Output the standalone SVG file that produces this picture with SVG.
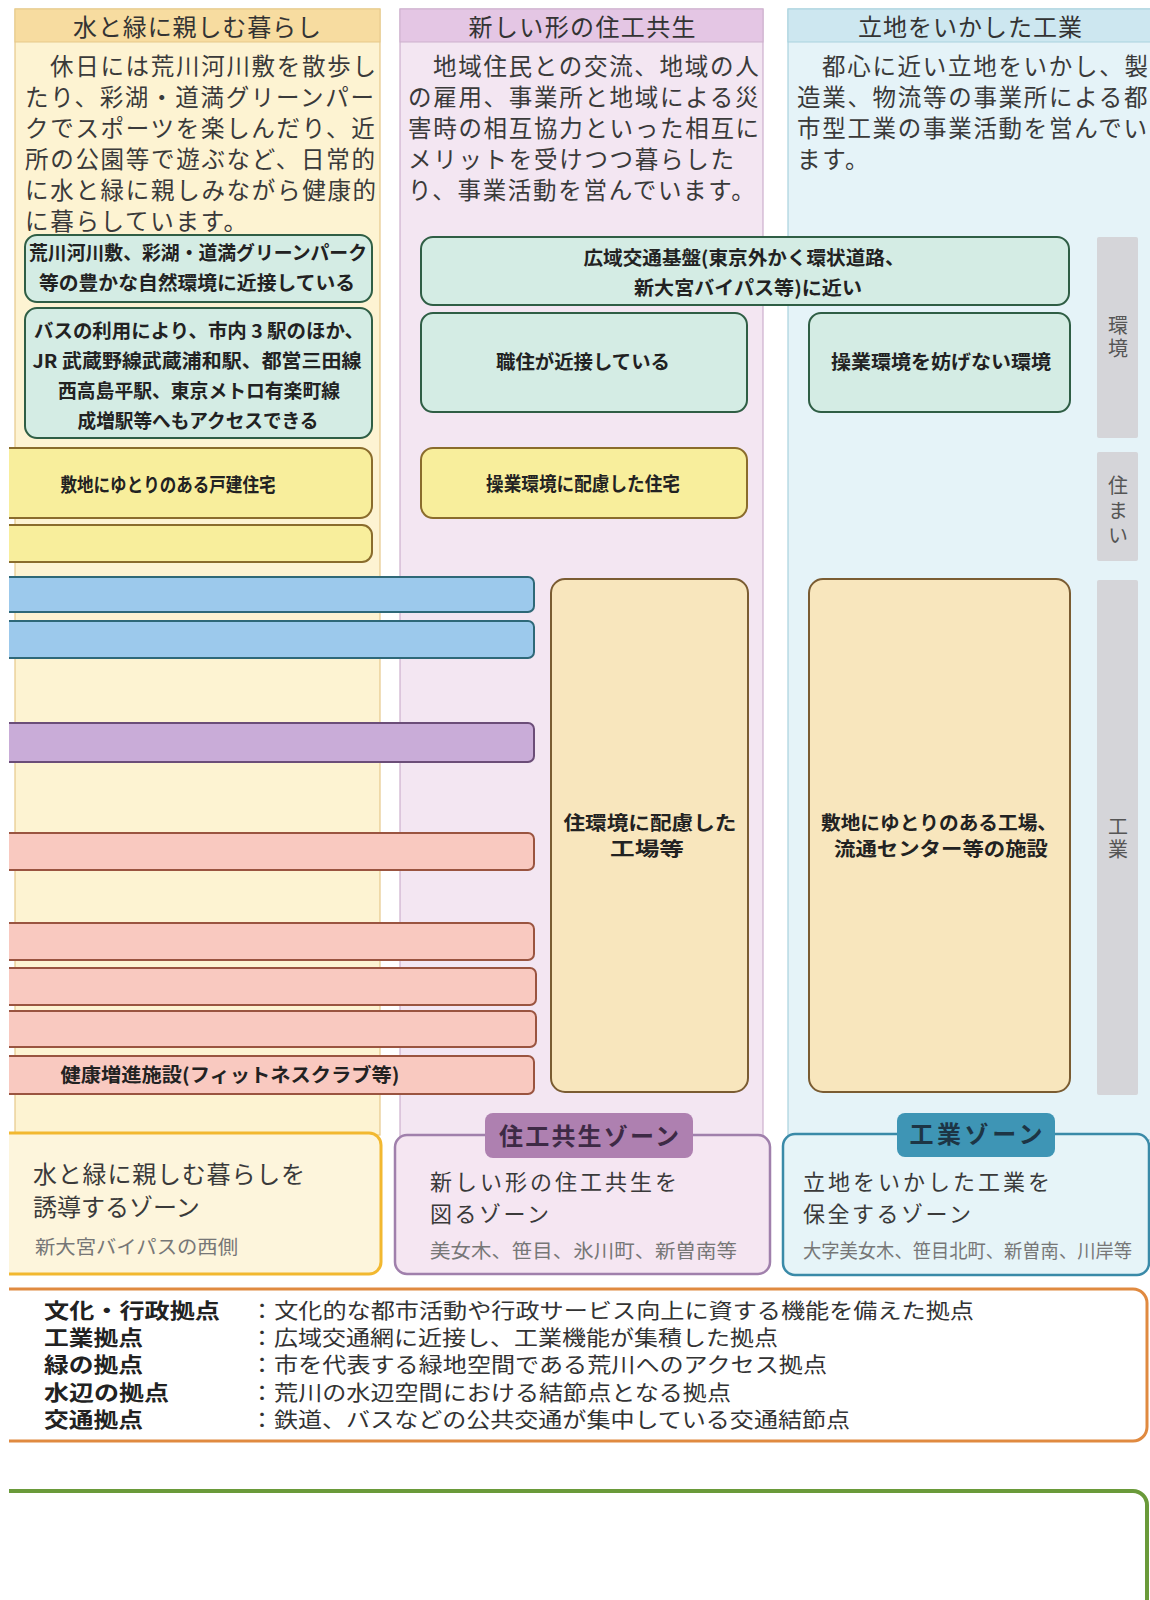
<svg xmlns="http://www.w3.org/2000/svg" width="1150" height="1600" viewBox="0 0 1150 1600">
<defs>
<clipPath id="clipL"><rect x="9" y="0" width="1141" height="1600"/></clipPath>
<style>
text{font-family:"Noto Sans CJK JP","Noto Sans CJK SC",sans-serif;}
.colL{fill:#fdf3d2;stroke:#e6c98a;stroke-width:1.2}
.hdrL{fill:#f7dca0;stroke:#e6c98a;stroke-width:1}
.colM{fill:#f3e6f2;stroke:#cdb0cd;stroke-width:1.2}
.hdrM{fill:#e4c6e4;stroke:#cdb0cd;stroke-width:1}
.colR{fill:#e5f3f8;stroke:#a9d2de;stroke-width:1.2}
.hdrR{fill:#cde7f0;stroke:#a9d2de;stroke-width:1}
.env{fill:#d4ece4;stroke:#2f5e45;stroke-width:2}
.house{fill:#f8ee9c;stroke:#8a6c2c;stroke-width:2}
.fac{fill:#f8e6bd;stroke:#7a5c32;stroke-width:2}
.blue{fill:#9cc9ec;stroke:#2e6878;stroke-width:2}
.purple{fill:#c9acd8;stroke:#6b4d78;stroke-width:2}
.pink{fill:#f9c9c0;stroke:#9a5440;stroke-width:2}
.side{fill:#d5d5d9}
.title{font-size:24px;fill:#333;text-anchor:middle}
.body{font-size:23.5px;letter-spacing:1.7px;fill:#3a3a3a}
.box{font-size:19px;font-weight:700;fill:#222;text-anchor:middle}
.sidet{font-size:20px;fill:#555;writing-mode:tb;glyph-orientation-vertical:0}
.zone{font-size:24px;fill:#3a3a3a}
.zone2{font-size:22px;fill:#3a3a3a}
.zsub{font-size:19px;fill:#777}
.tab{font-size:24px;font-weight:700;text-anchor:middle}
.lgl{font-size:21px;font-weight:700;fill:#222}
.lgd{font-size:21px;fill:#333}
</style>
</defs>
<rect width="1150" height="1600" fill="#ffffff"/>

<g id="column-left">
<rect class="colL" x="15" y="9" width="365" height="1126"/>
<rect class="hdrL" x="15" y="9" width="365" height="33"/>
<text class="title" x="197" y="36" textLength="248" lengthAdjust="spacing">水と緑に親しむ暮らし</text>
<text class="body" x="50" y="75">休日には荒川河川敷を散歩し</text>
<text class="body" x="25" y="106">たり、彩湖・道満グリーンパー</text>
<text class="body" x="25" y="137">クでスポーツを楽しんだり、近</text>
<text class="body" x="25" y="168">所の公園等で遊ぶなど、日常的</text>
<text class="body" x="25" y="199">に水と緑に親しみながら健康的</text>
<text class="body" x="25" y="230">に暮らしています。</text>
</g>

<g id="column-middle">
<rect class="colM" x="400" y="9" width="363" height="1131"/>
<rect class="hdrM" x="400" y="9" width="363" height="33"/>
<text class="title" x="582" y="36" textLength="227" lengthAdjust="spacing">新しい形の住工共生</text>
<text class="body" x="433" y="75">地域住民との交流、地域の人</text>
<text class="body" x="408" y="106">の雇用、事業所と地域による災</text>
<text class="body" x="408" y="137">害時の相互協力といった相互に</text>
<text class="body" x="408" y="168">メリットを受けつつ暮らした</text>
<text class="body" x="408" y="199">り、事業活動を営んでいます。</text>
</g>

<g id="column-right">
<rect class="colR" x="788" y="9" width="380" height="1131"/>
<rect class="hdrR" x="788" y="9" width="380" height="33"/>
<text class="title" x="970" y="36" textLength="224" lengthAdjust="spacing">立地をいかした工業</text>
<text class="body" x="822" y="75">都心に近い立地をいかし、製</text>
<text class="body" x="797" y="106">造業、物流等の事業所による都</text>
<text class="body" x="797" y="137">市型工業の事業活動を営んでい</text>
<text class="body" x="797" y="168">ます。</text>
</g>

<g id="side-labels">
<rect class="side" x="1097" y="237" width="41" height="201" rx="2"/>
<text class="sidet" x="1118" y="315" letter-spacing="3">環境</text>
<rect class="side" x="1097" y="452" width="41" height="109" rx="2"/>
<text class="sidet" x="1118" y="475" letter-spacing="5">住まい</text>
<rect class="side" x="1097" y="580" width="41" height="515" rx="2"/>
<text class="sidet" x="1118" y="816" letter-spacing="3">工業</text>
</g>

<g id="node-nature">
<rect class="env" x="25" y="235" width="347" height="67" rx="12"/>
<text class="box" x="198" y="260" textLength="338" lengthAdjust="spacingAndGlyphs">荒川河川敷、彩湖・道満グリーンパーク</text>
<text class="box" x="197" y="290" textLength="316" lengthAdjust="spacingAndGlyphs">等の豊かな自然環境に近接している</text>
</g>
<g id="node-bus">
<rect class="env" x="25" y="308" width="347" height="130" rx="12"/>
<text class="box" x="199" y="338" textLength="330" lengthAdjust="spacingAndGlyphs">バスの利用により、市内 3 駅のほか、</text>
<text class="box" x="197" y="368" textLength="329" lengthAdjust="spacingAndGlyphs">JR 武蔵野線武蔵浦和駅、都営三田線</text>
<text class="box" x="199" y="398" textLength="282" lengthAdjust="spacingAndGlyphs">西高島平駅、東京メトロ有楽町線</text>
<text class="box" x="198" y="428" textLength="241" lengthAdjust="spacingAndGlyphs">成増駅等へもアクセスできる</text>
</g>
<g id="node-house-detached" clip-path="url(#clipL)">
<rect class="house" x="-20" y="448" width="392" height="70" rx="12"/>
<text class="box" x="168" y="492" textLength="215" lengthAdjust="spacingAndGlyphs">敷地にゆとりのある戸建住宅</text>
</g>
<g id="node-house-2" clip-path="url(#clipL)">
<rect class="house" x="-20" y="525" width="392" height="37" rx="10"/>
</g>

<g id="node-wide-transport">
<rect class="env" x="421" y="237" width="648" height="68" rx="12"/>
<text class="box" x="744" y="265" textLength="321" lengthAdjust="spacingAndGlyphs">広域交通基盤(東京外かく環状道路、</text>
<text class="box" x="748" y="295" textLength="228" lengthAdjust="spacingAndGlyphs">新大宮バイパス等)に近い</text>
</g>
<g id="node-work-live">
<rect class="env" x="421" y="313" width="326" height="99" rx="12"/>
<text class="box" x="583" y="369" textLength="174" lengthAdjust="spacingAndGlyphs">職住が近接している</text>
</g>
<g id="node-operation-env">
<rect class="env" x="809" y="313" width="261" height="99" rx="12"/>
<text class="box" x="941" y="369" textLength="220" lengthAdjust="spacingAndGlyphs">操業環境を妨げない環境</text>
</g>
<g id="node-house-operation">
<rect class="house" x="421" y="448" width="326" height="70" rx="12"/>
<text class="box" x="583" y="491" textLength="194" lengthAdjust="spacingAndGlyphs">操業環境に配慮した住宅</text>
</g>
<g id="node-factory-mid">
<rect class="fac" x="551" y="579" width="197" height="513" rx="14"/>
<text class="box" x="650" y="830" textLength="173" lengthAdjust="spacingAndGlyphs">住環境に配慮した</text>
<text class="box" x="647" y="856" textLength="74" lengthAdjust="spacingAndGlyphs">工場等</text>
</g>
<g id="node-factory-right">
<rect class="fac" x="809" y="579" width="261" height="513" rx="14"/>
<text class="box" x="939" y="830" textLength="236" lengthAdjust="spacingAndGlyphs">敷地にゆとりのある工場、</text>
<text class="box" x="941" y="856" textLength="214" lengthAdjust="spacingAndGlyphs">流通センター等の施設</text>
</g>

<g id="bars" clip-path="url(#clipL)">
<rect class="blue" x="-20" y="577" width="554" height="35" rx="6"/>
<rect class="blue" x="-20" y="621" width="554" height="37" rx="6"/>
<rect class="purple" x="-20" y="723" width="554" height="39" rx="6"/>
<rect class="pink" x="-20" y="833" width="554" height="37" rx="6"/>
<rect class="pink" x="-20" y="923" width="554" height="37" rx="6"/>
<rect class="pink" x="-20" y="968" width="556" height="37" rx="6"/>
<rect class="pink" x="-20" y="1011" width="556" height="36" rx="6"/>
<rect class="pink" x="-20" y="1056" width="554" height="38" rx="6"/>
<text class="box" x="230" y="1082" textLength="339" lengthAdjust="spacingAndGlyphs">健康増進施設(フィットネスクラブ等)</text>
</g>

<g id="zone-left" clip-path="url(#clipL)">
<rect x="-20" y="1133" width="401" height="141" rx="12" fill="#fdf5dc" stroke="#f2b830" stroke-width="3"/>
<text class="zone" x="33" y="1183" textLength="272" lengthAdjust="spacing">水と緑に親しむ暮らしを</text>
<text class="zone" x="33" y="1216">誘導するゾーン</text>
<text class="zsub" x="35" y="1254" textLength="203" lengthAdjust="spacingAndGlyphs">新大宮バイパスの西側</text>
</g>

<g id="zone-middle">
<rect x="395" y="1135" width="375" height="139" rx="12" fill="#f5e6f2" stroke="#a080ac" stroke-width="2.5"/>
<rect x="485" y="1113" width="208" height="45" rx="8" fill="#ae80b0"/>
<text class="tab" x="589" y="1145" fill="#3d2a45" textLength="180" lengthAdjust="spacing">住工共生ゾーン</text>
<text class="zone2" x="430" y="1190" textLength="247" lengthAdjust="spacing">新しい形の住工共生を</text>
<text class="zone2" x="430" y="1222" letter-spacing="2.5">図るゾーン</text>
<text class="zsub" x="430" y="1258" textLength="307" lengthAdjust="spacingAndGlyphs">美女木、笹目、氷川町、新曽南等</text>
</g>

<g id="zone-right">
<rect x="783" y="1134" width="366" height="141" rx="12" fill="#e6f4f8" stroke="#3a8aa8" stroke-width="2.5"/>
<rect x="897" y="1113" width="158" height="44" rx="8" fill="#3e95b5"/>
<text class="tab" x="976" y="1143" fill="#1d3545" textLength="133" lengthAdjust="spacing">工業ゾーン</text>
<text class="zone2" x="803" y="1190" textLength="247" lengthAdjust="spacing">立地をいかした工業を</text>
<text class="zone2" x="803" y="1222" letter-spacing="2.5">保全するゾーン</text>
<text class="zsub" x="803" y="1258" textLength="329" lengthAdjust="spacingAndGlyphs">大字美女木、笹目北町、新曽南、川岸等</text>
</g>

<g id="legend" clip-path="url(#clipL)">
<rect x="-20" y="1289" width="1167" height="152" rx="14" fill="#ffffff" stroke="#e08a40" stroke-width="3"/>
<text class="lgl" x="44" y="1318" textLength="176" lengthAdjust="spacingAndGlyphs">文化・行政拠点</text>
<text class="lgl" x="44" y="1345" textLength="99" lengthAdjust="spacingAndGlyphs">工業拠点</text>
<text class="lgl" x="44" y="1372" textLength="99" lengthAdjust="spacingAndGlyphs">緑の拠点</text>
<text class="lgl" x="44" y="1400" textLength="125" lengthAdjust="spacingAndGlyphs">水辺の拠点</text>
<text class="lgl" x="44" y="1427" textLength="99" lengthAdjust="spacingAndGlyphs">交通拠点</text>
<text class="lgd" x="250" y="1318" textLength="724" lengthAdjust="spacingAndGlyphs">：文化的な都市活動や行政サービス向上に資する機能を備えた拠点</text>
<text class="lgd" x="250" y="1345" textLength="528" lengthAdjust="spacingAndGlyphs">：広域交通網に近接し、工業機能が集積した拠点</text>
<text class="lgd" x="250" y="1372" textLength="577" lengthAdjust="spacingAndGlyphs">：市を代表する緑地空間である荒川へのアクセス拠点</text>
<text class="lgd" x="250" y="1400" textLength="481" lengthAdjust="spacingAndGlyphs">：荒川の水辺空間における結節点となる拠点</text>
<text class="lgd" x="250" y="1427" textLength="600" lengthAdjust="spacingAndGlyphs">：鉄道、バスなどの公共交通が集中している交通結節点</text>
</g>

<g id="green-box" clip-path="url(#clipL)">
<rect x="-20" y="1491" width="1167" height="140" rx="14" fill="#ffffff" stroke="#6a9a3a" stroke-width="4"/>
</g>
</svg>
